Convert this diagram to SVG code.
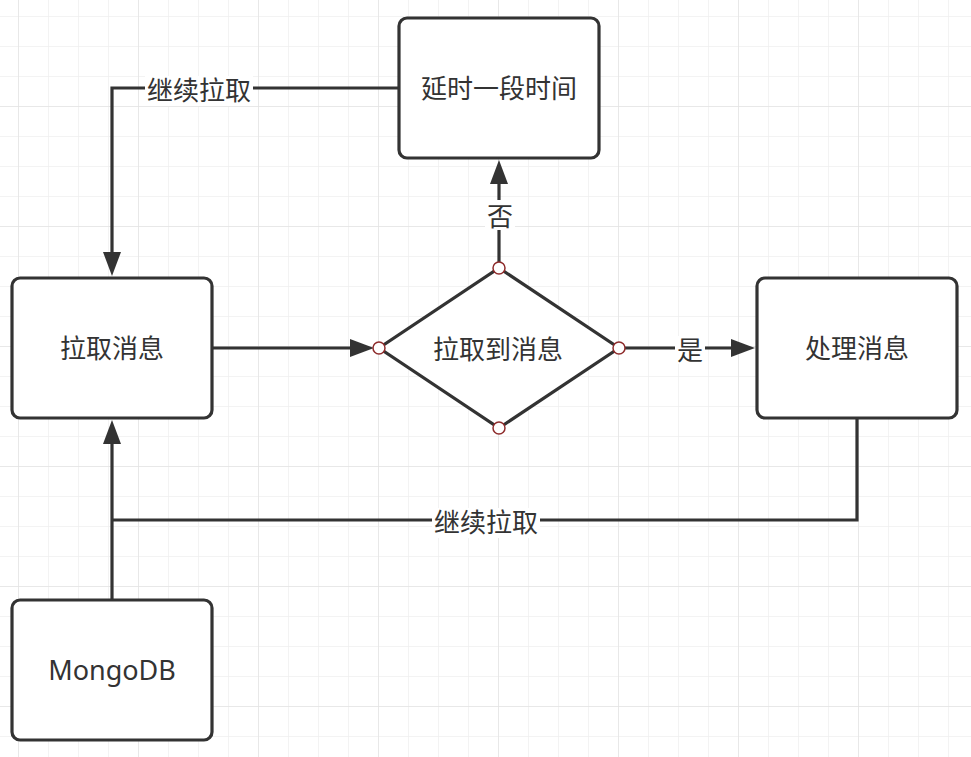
<svg xmlns="http://www.w3.org/2000/svg" width="971" height="757" viewBox="0 0 971 757">
<defs>
<style>
.minor{stroke:#efefef;stroke-width:1.5}
.major{stroke:#e4e4e4;stroke-width:1.5}
.box{fill:#fff;stroke:#333;stroke-width:3.2}
.line{fill:none;stroke:#333;stroke-width:3.2}
.t{font-family:"Noto Sans CJK SC","Noto Sans",sans-serif;font-size:26px;fill:#333;text-anchor:middle}
.m{font-family:"Noto Sans","Open Sans",sans-serif;font-size:27px;fill:#333;text-anchor:middle}
.lbg{fill:#fff}
.pt{fill:#fff;stroke:#8e2b2b;stroke-width:1.5}
</style>
<marker id="arr" markerUnits="userSpaceOnUse" markerWidth="26" markerHeight="20" refX="0" refY="9" orient="auto" viewBox="0 0 26 18">
<path d="M0,0 L24,9 L0,18 Z" fill="#333"/>
</marker>
<pattern id="gminor" patternUnits="userSpaceOnUse" x="18" y="16" width="30" height="30">
<line x1="0" y1="0" x2="0" y2="30" class="minor"/>
<line x1="0" y1="0" x2="30" y2="0" class="minor"/>
</pattern>
<pattern id="gmajor" patternUnits="userSpaceOnUse" x="18" y="106" width="120" height="120">
<line x1="0" y1="0" x2="0" y2="120" class="major"/>
<line x1="0" y1="0" x2="120" y2="0" class="major"/>
</pattern>
</defs>
<rect width="971" height="757" fill="#fff"/>
<rect width="971" height="757" fill="url(#gminor)"/>
<rect width="971" height="757" fill="url(#gmajor)"/>

<g id="connectors">
<path class="line" d="M213,348 H350" marker-end="url(#arr)"/>
<path class="line" d="M625,348 H731" marker-end="url(#arr)"/>
<path class="line" d="M499,262 V184" marker-end="url(#arr)"/>
<path class="line" d="M399,88 H112 V252" marker-end="url(#arr)"/>
<path class="line" d="M857,419 V520 H112"/>
<path class="line" d="M112,600 V444" marker-end="url(#arr)"/>
<rect class="lbg" x="145" y="76" width="108" height="30"/>
<text class="t" x="199" y="100">继续拉取</text>
<rect class="lbg" x="432" y="508" width="108" height="30"/>
<text class="t" x="486" y="532">继续拉取</text>
<rect class="lbg" x="675" y="336" width="30" height="28"/>
<text class="t" x="690" y="360">是</text>
<rect class="lbg" x="485" y="200" width="30" height="30"/>
<text class="t" x="500" y="226">否</text>
</g>

<g id="pull">
<rect class="box" x="12" y="278" width="200" height="140" rx="8"/>
<text class="t" x="112" y="358">拉取消息</text>
</g>
<g id="delay">
<rect class="box" x="399" y="18" width="200" height="140" rx="8"/>
<text class="t" x="499" y="98">延时一段时间</text>
</g>
<g id="process">
<rect class="box" x="757" y="278" width="200" height="140" rx="8"/>
<text class="t" x="857" y="358">处理消息</text>
</g>
<g id="mongodb">
<rect class="box" x="12" y="600" width="200" height="140" rx="8"/>
<text class="m" x="112" y="680">MongoDB</text>
</g>
<g id="decision">
<polygon class="box" points="499,268 619,348 499,428 379,348"/>
<text class="t" x="498" y="359">拉取到消息</text>
<circle class="pt" cx="499" cy="268" r="6"/>
<circle class="pt" cx="619" cy="348" r="6"/>
<circle class="pt" cx="499" cy="428" r="6"/>
<circle class="pt" cx="379" cy="348" r="6"/>
</g>
</svg>
